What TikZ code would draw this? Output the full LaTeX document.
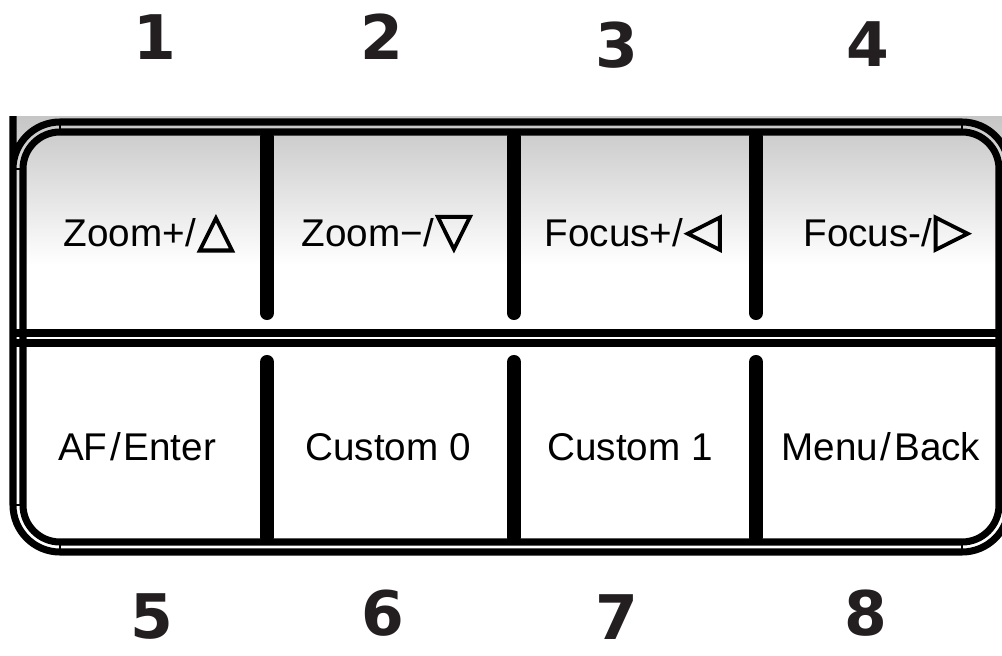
\documentclass[tikz,border=0pt]{standalone}
\usepackage{fontspec}
\setmainfont{Liberation Sans}
\newfontfamily\symfont[FakeBold=3]{DejaVu Sans}
\newfontfamily\numfont{DejaVu Sans}
\definecolor{numink}{HTML}{231F20}
\newcommand{\keytri}[1]{{\kern1pt\symfont\fontsize{27}{30}\selectfont #1}}
\newcommand{\keyslash}{\kern1.5pt/\kern1.5pt}
\begin{document}
\begin{tikzpicture}[x=0.02cm,y=-0.02cm,
  frameline/.style={line width=4pt,black},
  tickline/.style={line width=1.2pt,black},
  keybar/.style={line width=8pt,black,line cap=round},
  keylabel/.style={font=\fontsize{22}{26}\selectfont,inner sep=0pt,anchor=base},
  keynum/.style={font=\numfont\bfseries\fontsize{35}{38}\selectfont,text=numink,inner sep=0pt}]

\useasboundingbox (0,0) rectangle (1002,656);

\shade[top color=gray!45,bottom color=white] (10,116) rectangle (1002,265);

% outer ring
\draw[frameline] (13,116) -- (13,505) arc[start angle=180,end angle=90,radius=47]
  -- (962,552) arc[start angle=90,end angle=0,radius=47]
  -- (1009,169) arc[start angle=0,end angle=-90,radius=47]
  -- (60,122) arc[start angle=-90,end angle=-180,radius=47];

% inner ring
\draw[frameline] (23,169) -- (23,505) arc[start angle=180,end angle=90,radius=37]
  -- (962,542) arc[start angle=90,end angle=0,radius=37]
  -- (999,169) arc[start angle=0,end angle=-90,radius=37]
  -- (60,132) arc[start angle=-90,end angle=-180,radius=37] -- cycle;

\draw[tickline] (60,119)--(60,135);
\draw[tickline] (60,539)--(60,555);
\draw[tickline] (962,119)--(962,135);
\draw[tickline] (962,539)--(962,555);
\draw[tickline] (10,169)--(26,169);
\draw[tickline] (10,505)--(26,505);

% middle divider
\draw[frameline] (10,333) -- (1002,333);
\draw[frameline] (10,343) -- (1002,343);

\foreach \x in {267,514,756} {
  \draw[keybar] (\x,137) -- (\x,313);
  \draw[keybar] (\x,362) -- (\x,537);
}

\node[keylabel] (zoomin) at (149,246) {Zoom+/\keytri{△}};
\node[keylabel] (zoomout) at (387,246) {Zoom−/\keytri{▽}};
\node[keylabel] (focusin) at (633,246) {Focus+/\keytri{◁}};
\node[keylabel] (focusout) at (887,246) {Focus-/\keytri{▷}};

\node[keylabel] (afenter) at (137,460) {AF\keyslash Enter};
\node[keylabel] (custom0) at (388,460) {Custom 0};
\node[keylabel] (custom1) at (630,460) {Custom 1};
\node[keylabel] (menuback) at (881,460) {Menu\keyslash Back};

\node[keynum] (n1) at (155,37) {1};
\node[keynum] (n2) at (382,37) {2};
\node[keynum] (n3) at (617,45) {3};
\node[keynum] (n4) at (868,44) {4};
\node[keynum] (n5) at (152,617) {5};
\node[keynum] (n6) at (383,613) {6};
\node[keynum] (n7) at (617,617) {7};
\node[keynum] (n8) at (866,613) {8};

\end{tikzpicture}
\end{document}
